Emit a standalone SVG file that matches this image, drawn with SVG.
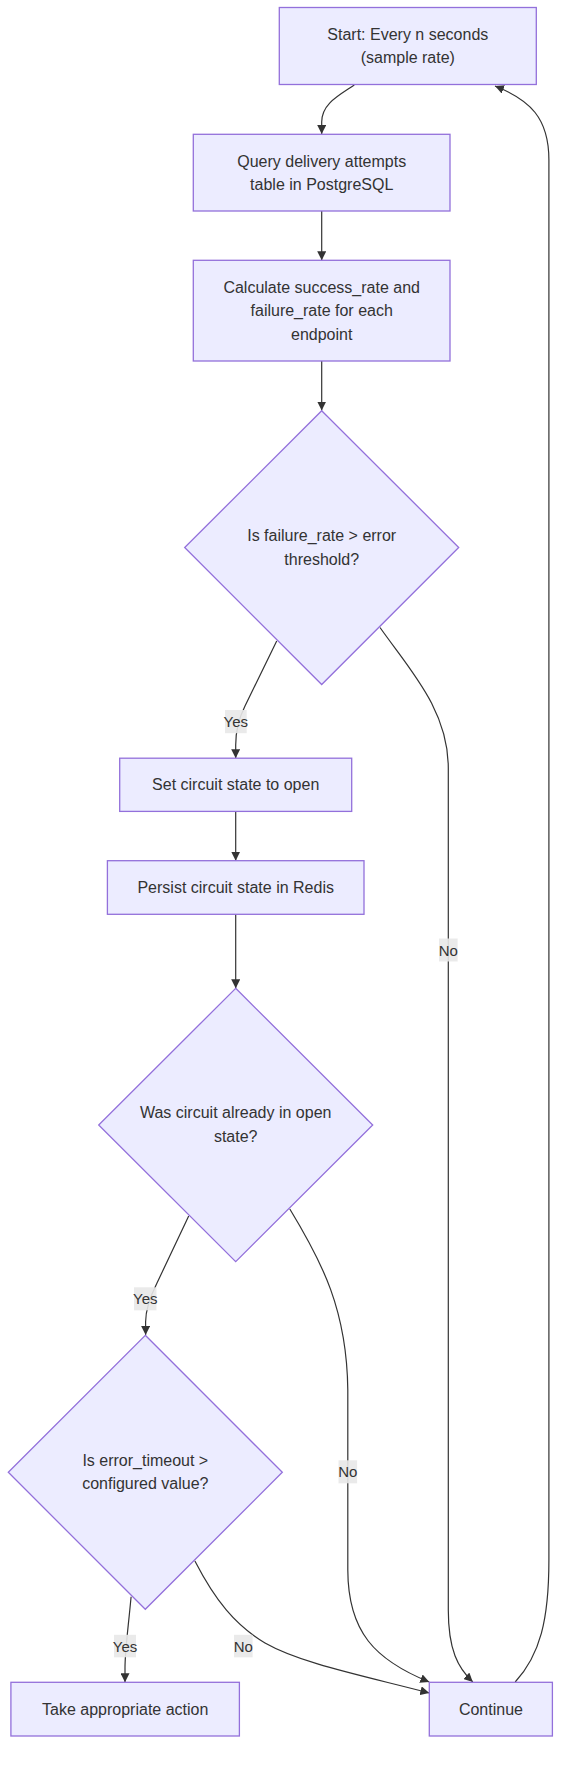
<svg xmlns="http://www.w3.org/2000/svg" width="568" height="1766" viewBox="0 0 568 1766">
<style>
.node rect,.node polygon{fill:#ECECFF;stroke:#9370DB;stroke-width:1.3px}
text{font-family:"Liberation Sans",Arial,sans-serif;font-size:16px;fill:#333;text-anchor:middle;dominant-baseline:central}
.edge{fill:none;stroke:#333;stroke-width:1.2px}
.lbl rect{fill:#e8e8e8;opacity:0.9}
.lbl text{font-size:15px}
</style>
<defs>
<marker id="arr" viewBox="0 0 10 10" refX="10" refY="5" markerWidth="9" markerHeight="9" markerUnits="userSpaceOnUse" orient="auto">
<path d="M0,0 L10,5 L0,10 z" fill="#333"/>
</marker>
</defs>
<g id="connectors">
<path class="edge" marker-end="url(#arr)" d="M354.3,85 C338,96 321.7,104 321.7,122 L321.7,134"/>
<path class="edge" marker-end="url(#arr)" d="M321.7,211 L321.7,260.3"/>
<path class="edge" marker-end="url(#arr)" d="M321.7,361 L321.7,410.5"/>
<path class="edge" marker-end="url(#arr)" d="M276.7,641 L245,706 C238,720 235.7,732 235.7,745 L235.7,758.2"/>
<path class="edge" marker-end="url(#arr)" d="M380,627.5 C410,670 448.3,710 448.3,768 L448.3,1610 C448.3,1650 458,1668 472.8,1682"/>
<path class="edge" marker-end="url(#arr)" d="M235.7,811.4 L235.7,860.7"/>
<path class="edge" marker-end="url(#arr)" d="M235.7,914.3 L235.7,988.3"/>
<path class="edge" marker-end="url(#arr)" d="M188.7,1216 L157,1283 C150,1297 145.6,1310 145.6,1322 L145.6,1335"/>
<path class="edge" marker-end="url(#arr)" d="M289.8,1209 C322,1262 347,1310 347.8,1390 L347.8,1570 C348,1632 375,1660 429.3,1682"/>
<path class="edge" marker-end="url(#arr)" d="M131.1,1596.7 C128,1630 125,1650 125,1668 L125,1682.3"/>
<path class="edge" marker-end="url(#arr)" d="M194.9,1561 C215,1600 235,1625 265,1643 C300,1663 360,1675 429.3,1693"/>
<path class="edge" marker-end="url(#arr)" d="M515.2,1682 C540,1655 548.9,1620 548.9,1560 L548.9,160 C548.9,118 530,100 495,86"/>
</g>
<g id="edge-labels">
<g class="lbl"><rect x="225" y="710" width="21.7" height="23.2"/><text x="235.8" y="721.6">Yes</text></g>
<g class="lbl"><rect x="439" y="938.5" width="18.6" height="23"/><text x="448.3" y="950">No</text></g>
<g class="lbl"><rect x="134" y="1287.3" width="22.5" height="23"/><text x="145.3" y="1298.8">Yes</text></g>
<g class="lbl"><rect x="338.5" y="1460.3" width="18.6" height="23"/><text x="347.8" y="1471.8">No</text></g>
<g class="lbl"><rect x="114" y="1634.8" width="22" height="22.5"/><text x="125" y="1646">Yes</text></g>
<g class="lbl"><rect x="234" y="1634.8" width="18.6" height="22.5"/><text x="243.3" y="1646">No</text></g>
</g>
<g id="start" class="node"><rect x="279.3" y="7.5" width="257" height="77"/><text x="407.8" y="34.7">Start: Every n seconds</text><text x="407.8" y="57.5">(sample rate)</text></g>
<g id="query" class="node"><rect x="193.3" y="134.3" width="256.7" height="76.7"/><text x="321.7" y="161">Query delivery attempts</text><text x="321.7" y="184.3">table in PostgreSQL</text></g>
<g id="calc" class="node"><rect x="193.3" y="260.3" width="256.7" height="100.7"/><text x="321.7" y="287">Calculate success_rate and</text><text x="321.7" y="310.5">failure_rate for each</text><text x="321.7" y="334.3">endpoint</text></g>
<g id="d1" class="node"><polygon points="321.7,410.7 458.7,547.5 321.7,684.5 184.7,547.5"/><text x="321.7" y="535.7">Is failure_rate &gt; error</text><text x="321.7" y="559.6">threshold?</text></g>
<g id="setopen" class="node"><rect x="119.7" y="758.2" width="232" height="53.2"/><text x="235.7" y="784.8">Set circuit state to open</text></g>
<g id="persist" class="node"><rect x="107.4" y="860.7" width="256.6" height="53.6"/><text x="235.7" y="887.5">Persist circuit state in Redis</text></g>
<g id="d2" class="node"><polygon points="235.7,988.3 372.7,1125 235.7,1261.7 98.7,1125"/><text x="235.7" y="1112.8">Was circuit already in open</text><text x="235.7" y="1136.7">state?</text></g>
<g id="d3" class="node"><polygon points="145.3,1335.3 282.3,1472.3 145.3,1609.3 8.3,1472.3"/><text x="145.3" y="1460.7">Is error_timeout &gt;</text><text x="145.3" y="1483.5">configured value?</text></g>
<g id="action" class="node"><rect x="10.9" y="1682.3" width="228.5" height="53.7"/><text x="125.2" y="1709">Take appropriate action</text></g>
<g id="continue" class="node"><rect x="429.3" y="1682.3" width="123.1" height="53.7"/><text x="490.9" y="1709">Continue</text></g>
</svg>
